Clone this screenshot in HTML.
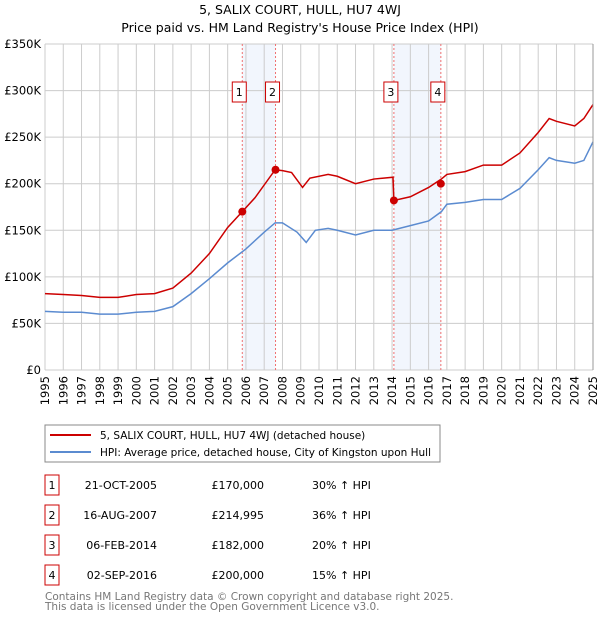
<!DOCTYPE html>
<html><head><meta charset="utf-8"><style>
body{margin:0;background:#fff;font-family:"DejaVu Sans","Liberation Sans",sans-serif;}
svg text{font-family:"DejaVu Sans","Liberation Sans",sans-serif;}
</style></head><body>
<svg id="c" width="600" height="620" xmlns="http://www.w3.org/2000/svg">
<text x="300" y="14" text-anchor="middle" font-size="12.5">5, SALIX COURT, HULL, HU7 4WJ</text>
<text x="300" y="32" text-anchor="middle" font-size="12.5">Price paid vs. HM Land Registry's House Price Index (HPI)</text>
<g id="grid"></g><g id="marks"></g><g id="axes"></g>
<rect x="45" y="425" width="395" height="37" fill="#fff" stroke="#888"/>
<line x1="50" y1="435" x2="91" y2="435" stroke="#cc0000" stroke-width="2"/>
<text x="100" y="439" font-size="10.5">5, SALIX COURT, HULL, HU7 4WJ (detached house)</text>
<line x1="50" y1="452" x2="91" y2="452" stroke="#5b8bd0" stroke-width="2"/>
<text x="100" y="456" font-size="10.5">HPI: Average price, detached house, City of Kingston upon Hull</text>
<g id="table" font-size="11"></g>
<text x="45" y="600" font-size="10.5" fill="#777">Contains HM Land Registry data © Crown copyright and database right 2025.</text>
<text x="45" y="610" font-size="10.5" fill="#777">This data is licensed under the Open Government Licence v3.0.</text>
</svg>
<script>
const hpiYears=[1995,1996,1997,1998,1999,2000,2001,2002,2003,2004,2005,2006,2007,2007.6,2008,2008.8,2009.3,2009.8,2010.5,2011,2012,2013,2014,2015,2016,2016.7,2017,2018,2019,2020,2021,2022,2022.6,2023,2024,2024.5,2025];
const hpiValues=[63,62,62,60,60,62,63,68,82,98,115,130,148,158,158,148,137,150,152,150,145,150,150,155,160,170,178,180,183,183,195,215,228,225,222,225,245];
const ppYears=[1995,1996,1997,1998,1999,2000,2001,2002,2003,2004,2005,2005.8,2006.5,2007.6,2008,2008.5,2009.1,2009.5,2010.5,2011,2012,2013,2014.05,2014.1,2015,2016,2016.7,2017,2018,2019,2020,2021,2022,2022.6,2023,2024,2024.5,2025];
const ppValues=[82,81,80,78,78,81,82,88,104,125,153,170,185,215,214,212,196,206,210,208,200,205,207,182,186,196,205,210,213,220,220,233,255,270,267,262,270,285];
const saleDates=[2005.8,2007.62,2014.1,2016.67];
const salePrices=[170,214.995,182,200];
const saleLabels=["1","2","3","4"];
const saleDateText=["21-OCT-2005","16-AUG-2007","06-FEB-2014","02-SEP-2016"];
const salePriceText=["£170,000","£214,995","£182,000","£200,000"];
const saleHpiText=["30% ↑ HPI","36% ↑ HPI","20% ↑ HPI","15% ↑ HPI"];
const yTicks=[0,50,100,150,200,250,300,350];
const yTickLabels=["£0","£50K","£100K","£150K","£200K","£250K","£300K","£350K"];

const NS="http://www.w3.org/2000/svg";
const X0=45,X1=593,Y0=370,Y1=44;
const xs=t=>X0+(t-1995)/30*(X1-X0);
const ys=v=>Y0-v/350*(Y0-Y1);
function mk(p,tag,a){const e=document.createElementNS(NS,tag);for(const k in a)e.setAttribute(k,a[k]);p.appendChild(e);return e;}
const grid=document.getElementById('grid'),marks=document.getElementById('marks'),axes=document.getElementById('axes'),table=document.getElementById('table');
for(let i=0;i<4;i+=2){
 const r=mk(grid,'rect',{x:xs(saleDates[i]),y:Y1,width:xs(saleDates[i+1])-xs(saleDates[i]),height:Y0-Y1,fill:'#f2f6fd'});
 
 
}
for(let y=1995;y<=2025;y++){
 const l=mk(grid,'line',{x1:xs(y),x2:xs(y),y1:Y1,y2:Y0,stroke:'#ccc','stroke-width':1});
 
 
 const t=mk(axes,'text',{x:0,y:0,'font-size':11.5,'text-anchor':'end',transform:`translate(${xs(y)+4},${Y0+6}) rotate(-90)`});
 t.textContent=y;
 
 
}
yTicks.forEach((v,i)=>{
 const l=mk(grid,'line',{x1:X0,x2:X1,y1:ys(v),y2:ys(v),stroke:'#ccc','stroke-width':1});
 
 
 const t=mk(axes,'text',{x:X0-4,y:ys(v)+4,'font-size':11.5,'text-anchor':'end'});
 t.textContent=yTickLabels[i];
 
 
});
const ax=mk(axes,'line',{x1:X1,x2:X1,y1:Y1,y2:Y0,stroke:'#999'});


saleDates.forEach((d,i)=>{
 const l=mk(marks,'line',{x1:xs(d),x2:xs(d),y1:Y1,y2:Y0,stroke:'#f07070','stroke-dasharray':'2,2'});
 
 
});
const hp=mk(marks,'polyline',{points:hpiYears.map((t,i)=>xs(t)+','+ys(hpiValues[i])).join(' '),fill:'none',stroke:'#5b8bd0','stroke-width':1.5});


const pp=mk(marks,'polyline',{points:ppYears.map((t,i)=>xs(t)+','+ys(ppValues[i])).join(' '),fill:'none',stroke:'#cc0000','stroke-width':1.5});


saleDates.forEach((d,i)=>{
 const c=mk(marks,'circle',{cx:xs(d),cy:ys(salePrices[i]),r:4,fill:'#cc0000'});
 
 
 const g=mk(marks,'g',{});
 
 
 mk(g,'rect',{x:xs(d)-10,y:82,width:14,height:20,fill:'#fff',stroke:'#cc0000'});
 const t=mk(g,'text',{x:xs(d)-3,y:96,'font-size':11,'text-anchor':'middle'});t.textContent=saleLabels[i];
 const ry=485+i*30;
 const row=mk(table,'g',{});
 
 
 mk(row,'rect',{x:45,y:ry-10,width:14,height:20,fill:'#fff',stroke:'#cc0000'});
 const n=mk(row,'text',{x:52,y:ry+4,'text-anchor':'middle'});n.textContent=saleLabels[i];
 const a=mk(row,'text',{x:157,y:ry+4,'text-anchor':'end'});a.textContent=saleDateText[i];
 const b=mk(row,'text',{x:264,y:ry+4,'text-anchor':'end'});b.textContent=salePriceText[i];
 const h=mk(row,'text',{x:312,y:ry+4});h.textContent=saleHpiText[i];
});
</script>
</body></html>
